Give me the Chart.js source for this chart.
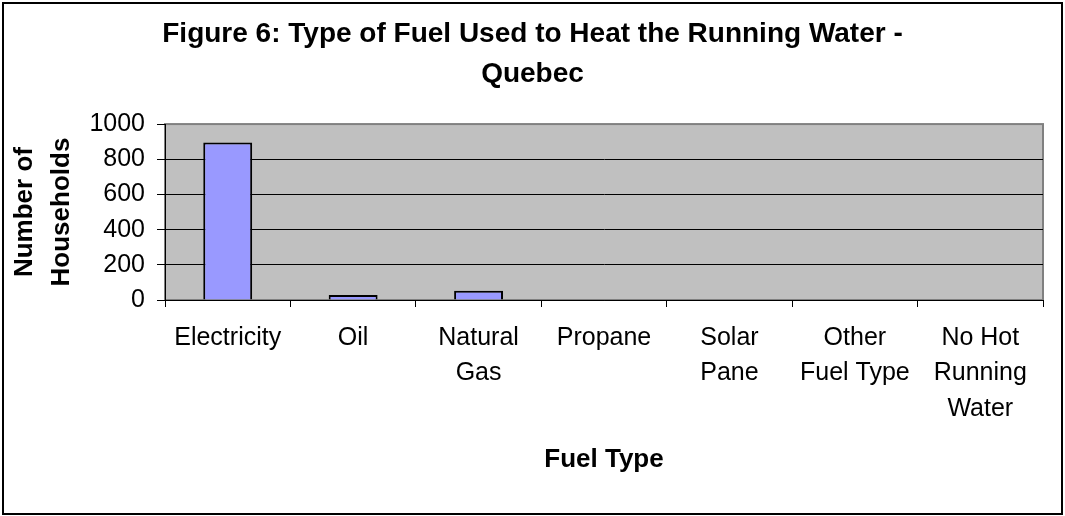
<!DOCTYPE html>
<html>
<head>
<meta charset="utf-8">
<script src="https://cdn.jsdelivr.net/npm/chart.js@4.4.0/dist/chart.umd.min.js"></script>
<style>
    body { margin: 0; background: #fff; }
    #chartBox {
        position: absolute;
        left: 2px;
        top: 2px;
        width: 1061px;
        height: 513px;
        border: 2px solid #000;
        box-sizing: border-box;
    }
</style>
</head>
<body>
<div id="chartBox"><canvas id="fuelChart"></canvas></div>
<script>
// categories (split into lines the way the axis shows them)
const fuelTypes = [
    ['Electricity'],
    ['Oil'],
    ['Natural', 'Gas'],
    ['Propane'],
    ['Solar', 'Pane'],
    ['Other', 'Fuel Type'],
    ['No Hot', 'Running', 'Water']
];
// number of households per fuel type
const households = [895, 28, 52, 0, 0, 0, 0];
const yTicks = [0, 200, 400, 600, 800, 1000];

const fontFamily = "'Liberation Sans', Arial, sans-serif";

// grey plot background with a darker frame, like the old Excel charts
const plotBackground = {
    id: 'plotBackground',
    beforeDraw: function (chart) {
        const ctx = chart.ctx;
        const a = chart.chartArea;
        ctx.save();
        ctx.fillStyle = '#C0C0C0';
        ctx.fillRect(a.left, a.top, a.right - a.left, a.bottom - a.top);
        ctx.strokeStyle = '#808080';
        ctx.lineWidth = 2;
        ctx.strokeRect(a.left, a.top, a.right - a.left, a.bottom - a.top);
        ctx.restore();
    }
};

const ctx = document.getElementById('fuelChart').getContext('2d');
new Chart(ctx, {
    type: 'bar',
    data: {
        labels: fuelTypes,
        datasets: [{
            label: 'Households',
            data: households,
            backgroundColor: '#9999FF',
            borderColor: '#000000',
            borderWidth: 2,
            categoryPercentage: 1.0,
            barPercentage: 0.39
        }]
    },
    options: {
        responsive: true,
        maintainAspectRatio: false,
        animation: false,
        layout: { padding: 0 },
        plugins: {
            legend: { display: false },
            tooltip: { enabled: false },
            title: {
                display: true,
                text: ['Figure 6: Type of Fuel Used to Heat the Running Water -', 'Quebec'],
                color: '#000',
                font: { family: fontFamily, size: 28, weight: 'bold', lineHeight: 1.43 },
                padding: { top: 10, bottom: 30 }
            }
        },
        scales: {
            x: {
                grid: {
                    display: true,
                    drawOnChartArea: false,
                    drawTicks: true,
                    tickLength: 7,
                    tickColor: '#000'
                },
                border: { display: true, color: '#000', width: 1 },
                ticks: {
                    color: '#000',
                    maxRotation: 0,
                    autoSkip: false,
                    padding: 13,
                    font: { family: fontFamily, size: 25, lineHeight: 1.42 }
                },
                title: {
                    display: true,
                    text: 'Fuel Type',
                    color: '#000',
                    font: { family: fontFamily, size: 26, weight: 'bold', lineHeight: 1.2 },
                    padding: { top: 0, bottom: 38 }
                },
                afterFit: function (scale) { scale.height = 213; }
            },
            y: {
                min: 0,
                max: 1000,
                afterBuildTicks: function (scale) {
                    scale.ticks = yTicks.map(function (v) { return { value: v }; });
                },
                grid: {
                    color: function (c) { return c.tick && c.tick.value === 1000 ? '#808080' : '#000'; },
                    lineWidth: 1,
                    drawTicks: true,
                    tickLength: 8,
                    tickColor: '#000'
                },
                border: { display: true, color: '#000', width: 1 },
                ticks: {
                    color: '#000',
                    padding: 12,
                    font: { family: fontFamily, size: 25 },
                    callback: function (value) { return String(value); }
                },
                title: {
                    display: true,
                    text: ['Number of', 'Households'],
                    color: '#000',
                    font: { family: fontFamily, size: 26, weight: 'bold', lineHeight: 1.42 },
                    padding: { top: 2, bottom: 0 }
                },
                afterFit: function (scale) { scale.width = 161; }
            },
            // empty axis on the right, only to keep the gap after the plot
            yRight: {
                position: 'right',
                display: true,
                grid: { display: false },
                border: { display: false },
                ticks: { display: false },
                afterFit: function (scale) { scale.width = 18; }
            }
        }
    },
    plugins: [plotBackground]
});
</script>
</body>
</html>
